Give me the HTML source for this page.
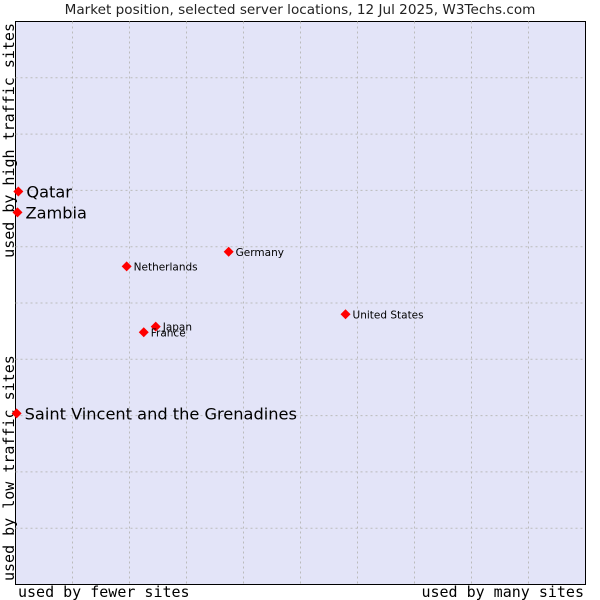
<!DOCTYPE html>
<html><head><meta charset="utf-8"><style>
body{margin:0;background:#fff;}
svg{display:block;}
</style></head><body>
<svg id="chart" width="600" height="600" xmlns="http://www.w3.org/2000/svg">
<text x="300" y="14" text-anchor="middle" font-family="DejaVu Sans, sans-serif" font-size="13.6" fill="#222">Market position, selected server locations, 12 Jul 2025, W3Techs.com</text>
<rect x="15.5" y="21.5" width="570" height="563" fill="#e3e4f8" stroke="#000"/>
<g id="grid"></g>
<text transform="translate(14,581) rotate(-90)" font-family="DejaVu Sans Mono, monospace" font-size="15" fill="#000">used by low traffic sites</text>
<text transform="translate(14,23) rotate(-90)" text-anchor="end" font-family="DejaVu Sans Mono, monospace" font-size="15" fill="#000">used by high traffic sites</text>
<text x="18" y="597" font-family="DejaVu Sans Mono, monospace" font-size="15" fill="#000">used by fewer sites</text>
<text x="584" y="597" text-anchor="end" font-family="DejaVu Sans Mono, monospace" font-size="15" fill="#000">used by many sites</text>
<g id="points"></g>
</svg>
<script>
const names=["Qatar","Zambia","Saint Vincent and the Grenadines","Netherlands","Germany","United States","Japan","France"];
const xVals=[0.5,0.35,0.2,19.5,37.4,57.9,24.6,22.5];
const yVals=[69.8,66.1,30.4,56.5,59.1,48.0,45.8,44.8];
const big=[true,true,true,false,false,false,false,false];
const NS="http://www.w3.org/2000/svg";
const L=15.5,T=21.5,W=570,H=563;
const sx=v=>L+v/100*W, sy=v=>T+H-v/100*H;
const grid=document.getElementById('grid');
for(let i=1;i<10;i++){
  const x=L+i*W/10, y=T+i*H/10;
  const a=document.createElementNS(NS,'line');
  a.setAttribute('x1',x);a.setAttribute('x2',x);a.setAttribute('y1',T);a.setAttribute('y2',T+H);
  a.setAttribute('stroke','#bbb');a.setAttribute('stroke-dasharray','2,3');
  
  
  grid.appendChild(a);
  const b=document.createElementNS(NS,'line');
  b.setAttribute('y1',y);b.setAttribute('y2',y);b.setAttribute('x1',L);b.setAttribute('x2',L+W);
  b.setAttribute('stroke','#bbb');b.setAttribute('stroke-dasharray','2,3');
  
  
  grid.appendChild(b);
}
const pts=document.getElementById('points');
names.forEach((n,i)=>{
  const x=sx(xVals[i]),y=sy(yVals[i]);
  const g=document.createElementNS(NS,'g');
  
  
  const d=document.createElementNS(NS,'polygon');
  d.setAttribute('points',`${x},${y-5} ${x+5},${y} ${x},${y+5} ${x-5},${y}`);
  d.setAttribute('fill','#f00');
  
  
  g.appendChild(d);
  const t=document.createElementNS(NS,'text');
  t.setAttribute('x',x+(big[i]?8:7));t.setAttribute('y',y+(big[i]?6:4));
  t.setAttribute('font-family','DejaVu Sans, sans-serif');
  t.setAttribute('font-size',big[i]?'16.2':'10.5');
  t.setAttribute('fill','#000');
  t.textContent=n;
  
  
  g.appendChild(t);
  pts.appendChild(g);
});
</script>
</body></html>
